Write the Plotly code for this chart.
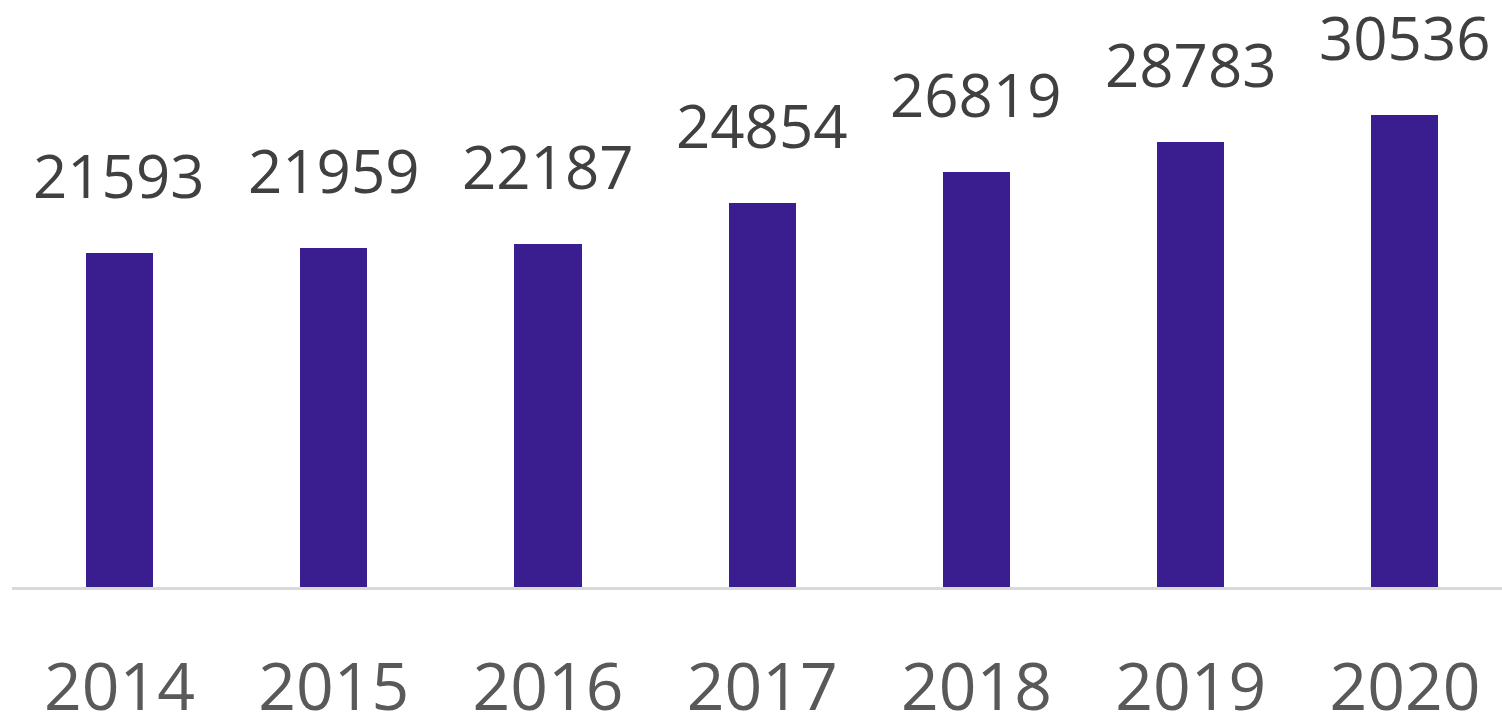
import plotly.graph_objects as go

years = ["2014", "2015", "2016", "2017", "2018", "2019", "2020"]
values = [21593, 21959, 22187, 24854, 26819, 28783, 30536]

BAR_COLOR = "#3A1E8F"
FONT = "Open Sans"

fig = go.Figure()
fig.add_trace(go.Bar(
    x=years, y=values,
    marker=dict(color=BAR_COLOR, line=dict(width=0)),
    width=0.313,
    hoverinfo="skip",
))

for i, (yr, v) in enumerate(zip(years, values)):
    fig.add_annotation(
        x=i, y=v, xref="x", yref="y", text=str(v), showarrow=False,
        xanchor="center", yanchor="bottom", yshift=35,
        font=dict(family=FONT, size=60, color="#404040"),
    )

fig.update_layout(
    template="none",
    width=1502, height=715,
    margin=dict(l=12, r=0, t=0, b=128, autoexpand=False),
    paper_bgcolor="white", plot_bgcolor="white",
    showlegend=False,
    bargap=0,
    xaxis=dict(
        type="category",
        automargin=False,
        range=[-0.5017, 6.453],
        showline=True, linecolor="#D9D9D9", linewidth=3,
        showgrid=False, zeroline=False, ticks="",
        tickfont=dict(family=FONT, size=66, color="#595959"),
        ticklabelstandoff=41,
    ),
    yaxis=dict(
        automargin=False,
        range=[0, 37970],
        showticklabels=False, showline=False, ticks="",
        showgrid=False, zeroline=False,
    ),
)

fig.write_html("out.html")
